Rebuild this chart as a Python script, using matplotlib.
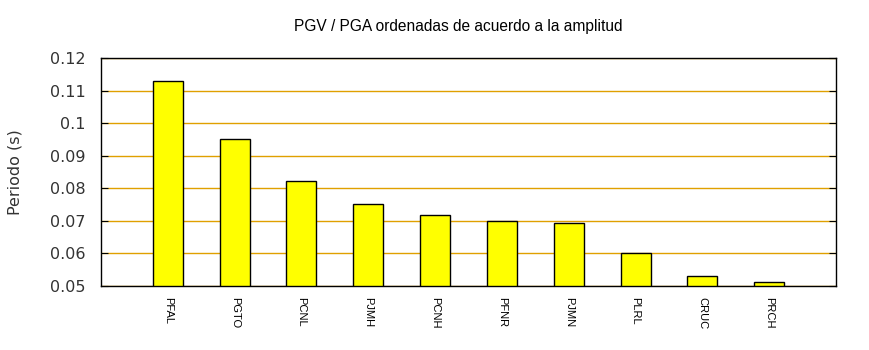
import matplotlib
matplotlib.use('Agg')
import matplotlib.pyplot as plt
from matplotlib.ticker import MultipleLocator, FuncFormatter

# estaciones ordenadas por amplitud
estaciones = ['PFAL', 'PGTO', 'PCNL', 'PJMH', 'PCNH', 'PFNR', 'PJMN', 'PLRL', 'CRUC', 'PRCH']
periodo = [0.113, 0.0951, 0.0822, 0.0752, 0.0718, 0.0700, 0.0693, 0.0601, 0.0531, 0.0512]

fig = plt.figure(figsize=(8.7, 3.5), dpi=100)
ax = fig.add_axes([101 / 870, 1 - 286 / 350, 735 / 870, 228 / 350])

xs = list(range(1, len(estaciones) + 1))
ax.bar(xs, [p - 0.05 for p in periodo], bottom=0.05, width=0.45,
       color='#ffff00', edgecolor='black', linewidth=1.0, zorder=3)

ax.set_xlim(0, 11)
ax.set_ylim(0.05, 0.12)
ax.yaxis.set_major_locator(MultipleLocator(0.01))
ax.yaxis.set_major_formatter(FuncFormatter(lambda v, pos: '%g' % round(v, 3)))
ax.grid(axis='y', color='#e0a000', linewidth=1.0, zorder=1)

ax.set_xticks(xs)
ax.set_xticklabels(estaciones, rotation=-90, fontsize=8, family='Liberation Sans')
ax.tick_params(axis='x', length=0, pad=8)
ax.tick_params(axis='y', direction='in', length=5, right=True, labelsize=11.5, pad=11)
for lbl in ax.get_yticklabels():
    lbl.set_color('#333333')

for s in ax.spines.values():
    s.set_linewidth(1.0)

ax.set_ylabel('Periodo (s)', fontsize=11.5, color='#333333', labelpad=20)
fig.text(458 / 870, 1 - 26 / 350, 'PGV / PGA ordenadas de acuerdo a la amplitud',
         ha='center', va='center', fontsize=11.2, family='Liberation Sans')

fig.savefig('out.png', dpi=100)
